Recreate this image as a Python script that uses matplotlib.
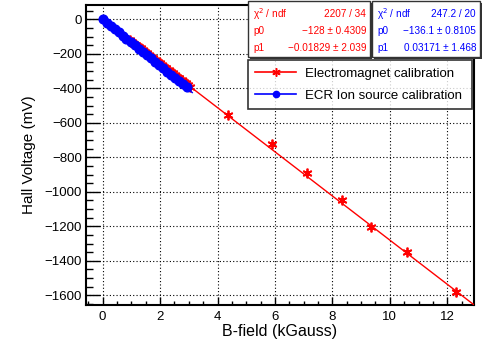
import matplotlib
matplotlib.use("Agg")
import matplotlib.pyplot as plt
import numpy as np
from matplotlib.patches import Rectangle
from matplotlib.lines import Line2D
from matplotlib.ticker import MultipleLocator

# ---- data ----
red_x = [0.95, 1.02, 1.10, 1.17, 1.25, 1.32, 1.40, 1.47, 1.55, 1.62, 1.70, 1.77,
         1.85, 1.92, 2.00, 2.07, 2.15, 2.22, 2.30, 2.37, 2.45, 2.52, 2.60, 2.67,
         2.75, 2.82, 2.90, 2.97, 3.05, 4.38, 5.91, 7.12, 8.32, 9.35, 10.61, 12.30]
red_y = [-121, -130, -141, -149, -160, -168, -180, -188, -198, -207, -218, -226,
         -237, -245, -256, -264, -275, -284, -294, -303, -313, -322, -333, -341,
         -352, -361, -371, -380, -390, -555, -723, -893, -1050, -1202, -1351, -1579]
blue_x = [0.00, 0.14, 0.28, 0.42, 0.56, 0.70, 0.83, 0.97, 1.11, 1.25, 1.39, 1.53,
          1.67, 1.81, 1.95, 2.09, 2.23, 2.37, 2.51, 2.65, 2.79, 2.92]
blue_y = [0, -19, -38, -57, -76, -95, -113, -132, -151, -170, -189, -208,
          -227, -246, -265, -284, -303, -321, -340, -358, -376, -392]

red_fit = (-128.0, -0.01829)   # slope, intercept
blue_fit = (-136.1, 0.03171)

red_stats = [("χ$^2$ / ndf", "2207 / 34"), ("p0", "−128 ± 0.4309"), ("p1", "−0.01829 ± 2.039")]
blue_stats = [("χ$^2$ / ndf", "247.2 / 20"), ("p0", "−136.1 ± 0.8105"), ("p1", "0.03171 ± 1.468")]

labels = ["Electromagnet calibration", "ECR Ion source calibration"]

plt.rcParams['font.family'] = ['Liberation Sans', 'DejaVu Sans']

fig = plt.figure(figsize=(4.82, 3.47), dpi=100)
ax = fig.add_axes([86/482, 1-305/347, (474-86)/482, (305-5)/347])
xmin, xmax = -0.58, 12.93
ymin, ymax = -1656, 83
ax.set_xlim(xmin, xmax)
ax.set_ylim(ymin, ymax)

RED = "#ff0000"
BLUE = "#0000ff"
STAR = (6, 2, 0)

# fit lines
rx = np.array([min(red_x), xmax])
ax.plot(rx, red_fit[0]*rx + red_fit[1], color=RED, lw=1.0, zorder=3)
ax.plot(red_x, red_y, ls="none", marker=STAR, ms=7, mew=1.3, color=RED, mec=RED, zorder=4)
bx = np.array([min(blue_x), 3.12])
ax.plot(bx, blue_fit[0]*bx + blue_fit[1], color=BLUE, lw=1.0, zorder=5)
ax.plot(blue_x, blue_y, ls="none", marker="o", ms=6.3, color=BLUE, zorder=6)

ax.xaxis.set_major_locator(MultipleLocator(2))
ax.xaxis.set_minor_locator(MultipleLocator(0.5))
ax.yaxis.set_major_locator(MultipleLocator(200))
ax.yaxis.set_minor_locator(MultipleLocator(50))
ax.tick_params(axis='x', which='major', direction='in', length=6, width=1, labelsize=9.5, pad=4)
ax.tick_params(axis='x', which='minor', direction='in', length=3, width=1)
ax.tick_params(axis='y', which='major', direction='in', length=10, width=1, labelsize=9.5, pad=3)
ax.tick_params(axis='y', which='minor', direction='in', length=5, width=1)
ax.grid(True, which='major', color='black', ls=(0, (1, 2)), lw=0.8)
for s in ax.spines.values():
    s.set_linewidth(1.5)
    s.set_color('black')

ax.set_xlabel("B-field (kGauss)", fontsize=11.5, labelpad=1)
ax.set_ylabel("Hall Voltage (mV)", fontsize=11, labelpad=6)

# stats boxes (figure pixel coords)
def px(x, y):
    return x/482, 1 - y/347

def stat_box(x0, x1, y0, y1, rows, color):
    X0, Y1 = px(x0, y1)
    X1, Y0 = px(x1, y0)
    shadow = Rectangle((X0 + 2/482, Y1 - 2/347), X1 - X0, Y0 - Y1, transform=fig.transFigure,
                       facecolor='#333333', edgecolor='none', zorder=9)
    fig.add_artist(shadow)
    r = Rectangle((X0, Y1), X1 - X0, Y0 - Y1, transform=fig.transFigure,
                  facecolor='white', edgecolor='#333333', lw=1.0, zorder=10)
    fig.add_artist(r)
    ys = [14, 31, 48]
    for (l, v), yy in zip(rows, ys):
        fig.text(*px(x0 + 5, yy), l, color=color, fontsize=7.2, va='center', ha='left', zorder=11)
        fig.text(*px(x1 - 4, yy), v, color=color, fontsize=7.2, va='center', ha='right', zorder=11)

stat_box(248, 370, 1, 57, red_stats, RED)
stat_box(372, 480, 1, 57, blue_stats, BLUE)

# legend
handles = [Line2D([], [], color=RED, marker=STAR, ms=6, mew=1.1, lw=1.2),
           Line2D([], [], color=BLUE, marker="o", ms=4.5, lw=1.2)]
X0, Y1 = px(248, 109)
X1, Y0 = px(472, 58)
leg = fig.legend(handles, labels, loc='lower left', bbox_to_anchor=(X0, Y1, X1 - X0, Y0 - Y1),
                 bbox_transform=fig.transFigure, mode='expand', fontsize=9.5, frameon=True,
                 fancybox=False, edgecolor='black', handlelength=3.1, handletextpad=0.65,
                 borderpad=0.55, labelspacing=0.75, borderaxespad=0)
leg.get_frame().set_linewidth(1.2)
leg.set_zorder(12)

fig.savefig("out.png", dpi=100)
